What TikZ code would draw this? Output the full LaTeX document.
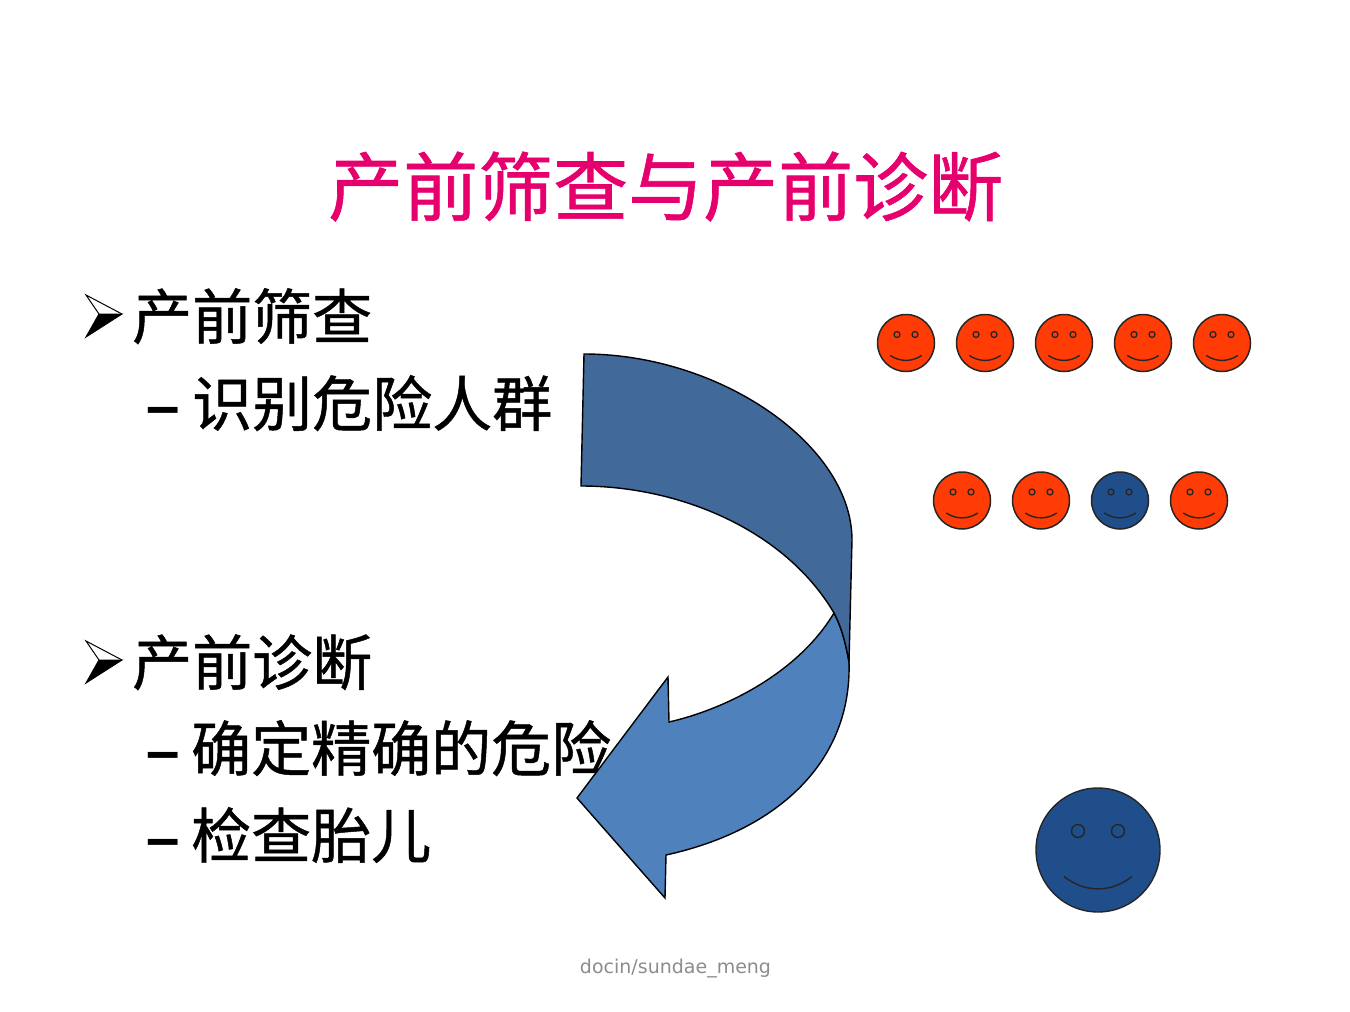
\documentclass[tikz,border=0pt]{standalone}
\usepackage{fontspec}
\setmainfont{Liberation Sans}
\newfontfamily\cjk[FakeBold=0.8]{Noto Sans CJK SC}
\newfontfamily\wm{DejaVu Sans}
\definecolor{titlepink}{HTML}{E6006E}
\definecolor{arrowdark}{HTML}{41699A}
\definecolor{arrowlight}{HTML}{4F81BD}
\definecolor{facered}{HTML}{FF3C05}
\definecolor{faceblue}{HTML}{1F4E8A}
\tikzset{
  x=1pt,y=-1pt,
  titletext/.style={anchor=base west,inner sep=0,text=titlepink,font=\cjk\fontsize{75}{75}\selectfont},
  headtext/.style={anchor=base west,inner sep=0,font=\cjk\fontsize{60}{60}\selectfont},
  dashmark/.style={anchor=base west,inner sep=0,font=\bfseries\fontsize{60}{60}\selectfont},
  arrowpart/.style={draw=black,line width=1.4pt,line join=miter},
  watermark/.style={inner sep=0,text=black!45,font=\wm\fontsize{19}{19}\selectfont},
  pics/smiley/.style={code={
    \path[fill=#1,draw=black!85,line width=1.5pt] (0,0) circle[radius=28.5];
    \path[draw=black!85,line width=1.3pt] (-9,-8.5) circle[radius=3] (9,-8.5) circle[radius=3];
    \draw[black!85,line width=1.4pt] (-15.7,12.5) .. controls (-6,19) and (6,19) .. (15.7,12.5);
  }},
  pics/bigsmiley/.style={code={
    \path[fill=#1,draw=black!85,line width=1.4pt] (0,0) circle[radius=62];
    \path[draw=black!85,line width=1.4pt] (-20,-19) circle[radius=6.5] (20,-19) circle[radius=6.5];
    \draw[black!85,line width=1.4pt] (-34,26.5) .. controls (-13,43) and (13,43) .. (34,26.5);
  }},
}
\begin{document}
\begin{tikzpicture}
\useasboundingbox (0,0) rectangle (1350,1012);
\node[titletext] (title) at (328,215) {产前筛查与产前诊断};
\node[headtext] (h1) at (132,339) {产前筛查};
\node[dashmark] (d1) at (146,426) {–};
\node[headtext] (s1) at (192,426) {识别危险人群};
\node[headtext] (h2) at (132,685) {产前诊断};
\node[dashmark] (d2) at (146,771) {–};
\node[headtext] (s2) at (191,771) {确定精确的危险};
\node[dashmark] (d3) at (146,858) {–};
\node[headtext] (s3) at (191,858) {检查胎儿};
\foreach \y in {0,346} {
  \fill[white] (122,314+\y) -- (86,295+\y) -- (99,314+\y) -- cycle;
  \draw[black,line width=1pt,fill=black] (122,314+\y) -- (99,314+\y) -- (86,337+\y) -- cycle;
  \draw[black,line width=1pt] (122,314+\y) -- (86,295+\y) -- (99,314+\y);
}
% curved arrow
\path[arrowpart,fill=arrowlight] (834,613) .. controls (800,670) and (730,708) .. (669,722)
  -- (668,677) -- (577,798) -- (665,898) -- (666,855)
  .. controls (780,830) and (852,760) .. (849,662) .. controls (846,645) and (842,628) .. cycle;
\path[arrowpart,fill=arrowdark] (584,354) .. controls (720,354) and (852,445) .. (852,540)
  -- (849,662) .. controls (846,645) and (842,628) .. (834,613)
  .. controls (785,530) and (680,486) .. (581,486) -- cycle;
% faces
\foreach \x in {906,985,1064,1143,1222} \pic at (\x,343) {smiley=facered};
\pic at (962,500.5) {smiley=facered};
\pic at (1041,500.5) {smiley=facered};
\pic at (1120,500.5) {smiley=faceblue};
\pic at (1199,500.5) {smiley=facered};
\pic at (1098,850) {bigsmiley=faceblue};
\node[watermark] (wm) at (675.5,969) {docin/sundae\_meng};
\end{tikzpicture}
\end{document}
